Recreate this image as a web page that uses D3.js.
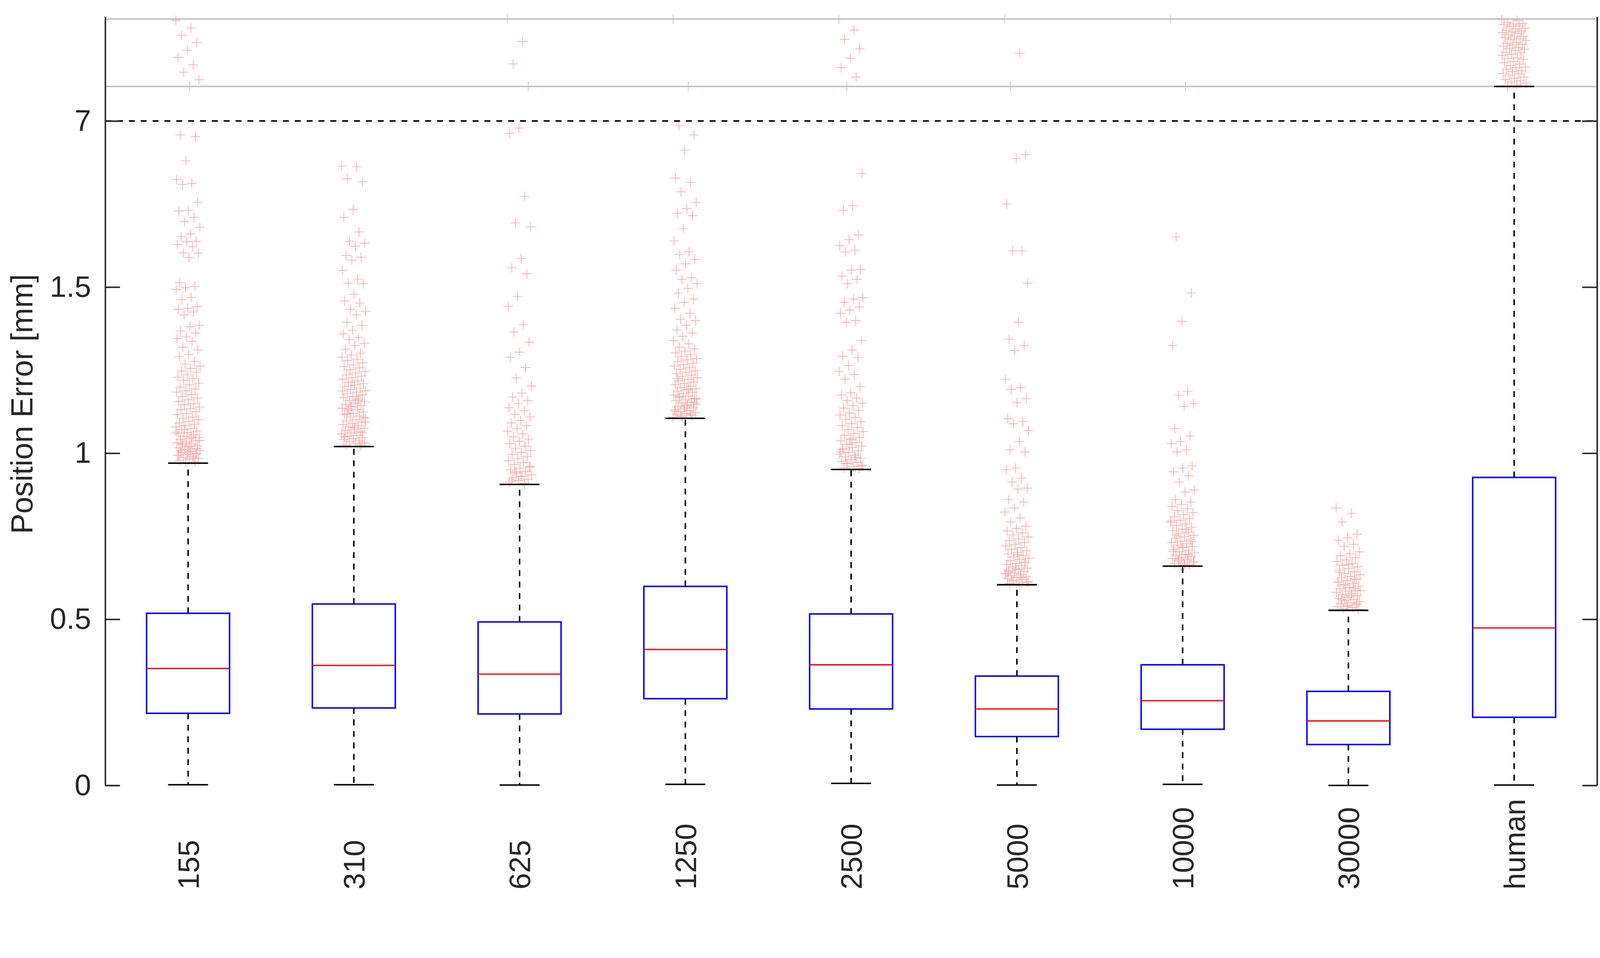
<!DOCTYPE html>
<html>
<head>
<meta charset="utf-8">
<script src="https://cdn.jsdelivr.net/npm/d3@7"></script>
<style>
  html, body { margin: 0; padding: 0; background: #fff; overflow: hidden; }
  svg { display: block; }
  text { font-family: "Liberation Sans", Arial, Helvetica, sans-serif; fill: #262626; }
</style>
</head>
<body>
<script>
    const chart_width = 4320;
    const chart_height = 2453;

    // categories and box statistics
    const categories = ["155", "310", "625", "1250", "2500", "5000", "10000", "30000", "human"];
    const q1 =        [0.217, 0.233, 0.215, 0.261, 0.230, 0.147, 0.169, 0.123, 0.205];
    const medians =   [0.352, 0.361, 0.335, 0.409, 0.363, 0.230, 0.255, 0.194, 0.474];
    const q3 =        [0.518, 0.546, 0.492, 0.599, 0.516, 0.329, 0.363, 0.283, 0.927];
    const whiskerLo = [0.002, 0.002, 0.001, 0.003, 0.006, 0.001, 0.003, 0.000, 0.001];
    const whiskerHi = [0.970, 1.020, 0.906, 1.105, 0.951, 0.604, 0.660, 0.527, 2.104];

    // outliers per category
    const out155 = [2.303, 2.280, 2.258, 2.236, 2.213, 2.191, 2.169, 2.147, 2.124, 2.104,
      1.958, 1.953, 1.880, 1.824, 1.812, 1.809, 1.755, 1.731, 1.729, 1.710, 1.697, 1.680,
      1.660, 1.652, 1.638, 1.637, 1.628, 1.621, 1.603, 1.602, 1.589, 1.513, 1.502, 1.498,
      1.493, 1.469, 1.462, 1.441, 1.436, 1.433, 1.425, 1.416, 1.385, 1.381, 1.368, 1.362,
      1.350, 1.345, 1.337, 1.319, 1.311, 1.297, 1.291, 1.276, 1.268, 1.262, 1.255, 1.247,
      1.244, 1.236, 1.229, 1.224, 1.219, 1.211, 1.206, 1.199, 1.193, 1.188, 1.184, 1.177,
      1.171, 1.166, 1.161, 1.156, 1.149, 1.146, 1.139, 1.134, 1.131, 1.125, 1.119, 1.116,
      1.109, 1.105, 1.101, 1.096, 1.091, 1.087, 1.083, 1.079, 1.074, 1.071, 1.066, 1.062,
      1.059, 1.055, 1.051, 1.047, 1.044, 1.041, 1.037, 1.034, 1.031, 1.028, 1.025, 1.022,
      1.019, 1.016, 1.013, 1.011, 1.008, 1.005, 1.002, 0.999, 0.996, 0.993, 0.990, 0.987,
      0.984, 0.981, 0.978, 0.975, 0.972, 1.063, 1.048, 1.029, 1.014, 1.003, 0.994, 0.985,
      1.071, 1.038, 1.021, 1.009, 0.997];
    const out310 = [1.864, 1.862, 1.826, 1.817, 1.734, 1.710, 1.666, 1.638, 1.632, 1.623,
      1.595, 1.590, 1.581, 1.550, 1.524, 1.512, 1.510, 1.478, 1.458, 1.452, 1.433, 1.427,
      1.416, 1.394, 1.385, 1.370, 1.359, 1.348, 1.342, 1.330, 1.324, 1.313, 1.301, 1.296,
      1.289, 1.283, 1.279, 1.272, 1.266, 1.261, 1.257, 1.251, 1.246, 1.241, 1.236, 1.232,
      1.227, 1.223, 1.218, 1.214, 1.209, 1.205, 1.201, 1.196, 1.192, 1.188, 1.184, 1.179,
      1.175, 1.171, 1.167, 1.163, 1.159, 1.155, 1.151, 1.147, 1.143, 1.139, 1.135, 1.131,
      1.128, 1.124, 1.120, 1.116, 1.112, 1.109, 1.105, 1.101, 1.097, 1.094, 1.090, 1.086,
      1.083, 1.079, 1.075, 1.072, 1.068, 1.065, 1.061, 1.058, 1.054, 1.051, 1.047, 1.044,
      1.041, 1.037, 1.034, 1.031, 1.028, 1.025, 1.022, 1.213, 1.187, 1.158, 1.133, 1.108,
      1.077, 1.049, 1.027, 1.142, 1.093, 1.171, 1.118, 1.062];
    const out625 = [2.307, 2.239, 2.172, 2.104, 1.979, 1.963, 1.773, 1.693, 1.681, 1.586,
      1.558, 1.540, 1.472, 1.442, 1.387, 1.365, 1.334, 1.304, 1.288, 1.258, 1.227, 1.202,
      1.181, 1.169, 1.158, 1.149, 1.137, 1.128, 1.117, 1.109, 1.098, 1.091, 1.083, 1.074,
      1.066, 1.058, 1.049, 1.042, 1.036, 1.029, 1.021, 1.015, 1.008, 1.002, 0.996, 0.989,
      0.983, 0.977, 0.972, 0.966, 0.961, 0.955, 0.950, 0.945, 0.940, 0.935, 0.930, 0.926,
      0.921, 0.917, 0.913, 0.909, 0.944, 0.958, 0.931, 0.919];
    const out1250 = [2.307, 2.104, 1.986, 1.958, 1.912, 1.828, 1.815, 1.787, 1.755, 1.736,
      1.722, 1.715, 1.676, 1.639, 1.606, 1.598, 1.583, 1.570, 1.551, 1.528, 1.523, 1.510,
      1.496, 1.482, 1.464, 1.454, 1.436, 1.421, 1.403, 1.399, 1.385, 1.371, 1.362, 1.352,
      1.339, 1.329, 1.319, 1.314, 1.307, 1.302, 1.296, 1.291, 1.285, 1.281, 1.276, 1.271,
      1.266, 1.262, 1.257, 1.253, 1.248, 1.244, 1.239, 1.235, 1.231, 1.227, 1.222, 1.218,
      1.214, 1.210, 1.206, 1.202, 1.198, 1.194, 1.190, 1.187, 1.183, 1.179, 1.175, 1.172,
      1.168, 1.165, 1.161, 1.158, 1.154, 1.151, 1.147, 1.144, 1.141, 1.137, 1.134, 1.131,
      1.128, 1.125, 1.122, 1.119, 1.116, 1.113, 1.110, 1.108, 1.193, 1.171, 1.152, 1.139,
      1.126, 1.117, 1.112, 1.163, 1.145, 1.224];
    const out2500 = [2.307, 2.274, 2.246, 2.217, 2.189, 2.161, 2.132, 2.104, 1.842, 1.745,
      1.731, 1.657, 1.643, 1.625, 1.611, 1.606, 1.553, 1.551, 1.533, 1.523, 1.510, 1.468,
      1.464, 1.454, 1.440, 1.431, 1.421, 1.399, 1.394, 1.339, 1.311, 1.292, 1.288, 1.264,
      1.246, 1.237, 1.223, 1.200, 1.182, 1.175, 1.166, 1.158, 1.151, 1.143, 1.136, 1.129,
      1.121, 1.115, 1.108, 1.102, 1.095, 1.089, 1.083, 1.077, 1.071, 1.065, 1.059, 1.054,
      1.048, 1.043, 1.037, 1.032, 1.027, 1.022, 1.017, 1.012, 1.007, 1.002, 0.998, 0.993,
      0.989, 0.985, 0.980, 0.976, 0.972, 0.968, 0.964, 0.960, 0.956, 0.953, 1.026, 1.004,
      0.987, 0.970, 0.961, 1.041, 1.013];
    const out5000 = [2.307, 2.204, 2.104, 1.899, 1.887, 1.750, 1.609, 1.609, 1.512, 1.394,
      1.343, 1.324, 1.309, 1.222, 1.197, 1.192, 1.164, 1.152, 1.104, 1.095, 1.089, 1.068,
      1.035, 1.010, 1.004, 0.955, 0.950, 0.925, 0.913, 0.895, 0.892, 0.860, 0.853, 0.835,
      0.823, 0.805, 0.793, 0.780, 0.773, 0.766, 0.760, 0.754, 0.748, 0.742, 0.737, 0.731,
      0.726, 0.721, 0.716, 0.711, 0.706, 0.701, 0.697, 0.692, 0.688, 0.684, 0.680, 0.676,
      0.672, 0.668, 0.665, 0.661, 0.657, 0.654, 0.650, 0.647, 0.644, 0.640, 0.637, 0.634,
      0.631, 0.628, 0.625, 0.622, 0.619, 0.616, 0.613, 0.610, 0.607, 0.671, 0.652, 0.638,
      0.626, 0.617, 0.611, 0.694, 0.643];
    const out10000 = [2.307, 2.104, 1.651, 1.482, 1.397, 1.324, 1.186, 1.174, 1.149, 1.141,
      1.074, 1.052, 1.035, 1.029, 1.010, 1.004, 0.962, 0.955, 0.944, 0.932, 0.913, 0.889,
      0.883, 0.860, 0.853, 0.846, 0.840, 0.833, 0.827, 0.821, 0.815, 0.809, 0.803, 0.798,
      0.792, 0.787, 0.782, 0.777, 0.772, 0.767, 0.762, 0.757, 0.753, 0.748, 0.744, 0.739,
      0.735, 0.731, 0.727, 0.723, 0.719, 0.715, 0.711, 0.707, 0.703, 0.700, 0.696, 0.693,
      0.689, 0.686, 0.683, 0.679, 0.676, 0.673, 0.670, 0.667, 0.664, 0.661, 0.796, 0.771,
      0.751, 0.734, 0.718, 0.705, 0.694, 0.681, 0.672, 0.665];
    const out30000 = [0.835, 0.819, 0.793, 0.756, 0.745, 0.738, 0.726, 0.720, 0.703, 0.697,
      0.691, 0.685, 0.679, 0.674, 0.668, 0.663, 0.658, 0.653, 0.648, 0.643, 0.638, 0.634,
      0.629, 0.625, 0.620, 0.616, 0.612, 0.608, 0.604, 0.600, 0.596, 0.592, 0.588, 0.585,
      0.581, 0.577, 0.574, 0.570, 0.567, 0.563, 0.560, 0.557, 0.553, 0.550, 0.547, 0.544,
      0.541, 0.538, 0.535, 0.532, 0.529, 0.665, 0.642, 0.621, 0.603, 0.586, 0.571, 0.559,
      0.548, 0.539, 0.612, 0.594];
    const outHuman = [2.305, 2.303, 2.296, 2.294, 2.292, 2.290, 2.286, 2.285, 2.279, 2.277,
      2.273, 2.270, 2.268, 2.266, 2.264, 2.259, 2.255, 2.253, 2.251, 2.247, 2.246, 2.242,
      2.236, 2.234, 2.231, 2.229, 2.225, 2.221, 2.218, 2.216, 2.212, 2.207, 2.205, 2.201,
      2.197, 2.190, 2.188, 2.186, 2.179, 2.175, 2.171, 2.167, 2.162, 2.160, 2.156, 2.151,
      2.149, 2.143, 2.142, 2.138, 2.132, 2.129, 2.125, 2.121, 2.117, 2.114, 2.110, 2.106];
    const outliers = [out155, out310, out625, out1250, out2500, out5000, out10000, out30000, outHuman];

    // y axis ticks (the top tick is labelled 7 where the axis is broken)
    const tickValues = [0, 0.5, 1, 1.5, 2];
    const tickLabels = ["0", "0.5", "1", "1.5", "7"];
    const breakLines = [2.104, 2.307];
    const yLabel = "Position Error [mm]";

    // viewBox keeps the whole 4320x2453 drawing inside the window, pinned to the top
    const svg = d3.select('body').append('svg')
        .attr('viewBox', `0 0 ${chart_width} ${chart_height}`)
        .attr('preserveAspectRatio', 'xMidYMin meet')
        .style('width', '100vw').style('height', '100vh');

    const x = d3.scaleBand().domain(categories).range([284, 4312]).padding(0);
    const y = d3.scaleLinear().domain([0, 2.314]).range([2121, 45]);
    const cx = c => x(c) + x.bandwidth() / 2;
    const boxW = 224, capW = 108;

    const g = svg.append('g');

    // outliers first, grey break lines over them
    categories.forEach((c, ci) => {
      g.append('g').selectAll('path')
        .data(outliers[ci])
        .enter().append('path')
          .attr('d', 'M-13,0H13M0,-13V13')
          .attr('transform', (d, i) => {
            const jit = (((i * 0.618034) % 1) - 0.5) * 66;
            return `translate(${cx(c) + jit},${y(d)})`;
          })
          .attr('stroke', '#f7b0b0')
          .attr('stroke-width', 2)
          .attr('fill', 'none');
    });

    g.selectAll('line.break')
      .data(breakLines)
      .enter().append('line')
        .attr('class', 'break')
        .attr('x1', 284).attr('x2', 4312)
        .attr('y1', d => y(d)).attr('y2', d => y(d))
        .attr('stroke', '#c0c0c0').attr('stroke-width', 4);

    g.append('line')
        .attr('x1', 284).attr('x2', 4312)
        .attr('y1', y(2)).attr('y2', y(2))
        .attr('stroke', '#000').attr('stroke-width', 4)
        .attr('stroke-dasharray', '16,16');

    // boxes
    const boxes = g.selectAll('g.box')
      .data(categories)
      .enter().append('g').attr('class', 'box');

    boxes.append('line')
        .attr('x1', cx).attr('x2', cx)
        .attr('y1', (c, i) => y(q3[i])).attr('y2', (c, i) => y(whiskerHi[i]))
        .attr('stroke', '#000').attr('stroke-width', 4).attr('stroke-dasharray', '16,15');
    boxes.append('line')
        .attr('x1', cx).attr('x2', cx)
        .attr('y1', (c, i) => y(q1[i])).attr('y2', (c, i) => y(whiskerLo[i]))
        .attr('stroke', '#000').attr('stroke-width', 4).attr('stroke-dasharray', '16,15');
    [whiskerHi, whiskerLo].forEach(arr => {
      boxes.append('line')
          .attr('x1', c => cx(c) - capW / 2).attr('x2', c => cx(c) + capW / 2)
          .attr('y1', (c, i) => y(arr[i])).attr('y2', (c, i) => y(arr[i]))
          .attr('stroke', '#000').attr('stroke-width', 4);
    });
    boxes.append('rect')
        .attr('x', c => cx(c) - boxW / 2).attr('width', boxW)
        .attr('y', (c, i) => y(q3[i]))
        .attr('height', (c, i) => y(q1[i]) - y(q3[i]))
        .attr('fill', 'none').attr('stroke', '#0000ff').attr('stroke-width', 4);
    boxes.append('line')
        .attr('x1', c => cx(c) - boxW / 2).attr('x2', c => cx(c) + boxW / 2)
        .attr('y1', (c, i) => y(medians[i])).attr('y2', (c, i) => y(medians[i]))
        .attr('stroke', '#ff0000').attr('stroke-width', 3.5);

    // axes
    const yAxisL = d3.axisLeft(y).tickValues(tickValues)
        .tickFormat((d, i) => tickLabels[i]).tickSize(-40).tickSizeOuter(0).tickPadding(38);
    const yAxisR = d3.axisRight(y).tickValues(tickValues)
        .tickFormat('').tickSize(-40).tickSizeOuter(0);

    const axL = svg.append('g').attr('transform', 'translate(284,0)').call(yAxisL);
    const axR = svg.append('g').attr('transform', 'translate(4312,0)').call(yAxisR);
    [axL, axR].forEach(ax => {
      ax.select('.domain').attr('stroke', '#262626').attr('stroke-width', 4);
      ax.selectAll('.tick line').attr('stroke', '#262626').attr('stroke-width', 4);
      ax.selectAll('.tick text')
        .attr('font-size', 80)
        .attr('font-family', '"Liberation Sans", Arial, sans-serif')
        .attr('fill', '#262626');
    });

    // category labels, rotated
    svg.append('g').selectAll('text')
      .data(categories)
      .enter().append('text')
        .attr('transform', c => `translate(${cx(c)},2402) rotate(-90)`)
        .attr('dy', '0.36em')
        .attr('text-anchor', 'start')
        .attr('font-size', 80)
        .text(c => c);

    svg.append('text')
        .attr('transform', 'translate(58,1091) rotate(-90)')
        .attr('dy', '0.36em')
        .attr('text-anchor', 'middle')
        .attr('font-size', 82)
        .text(yLabel);
</script>
</body>
</html>
